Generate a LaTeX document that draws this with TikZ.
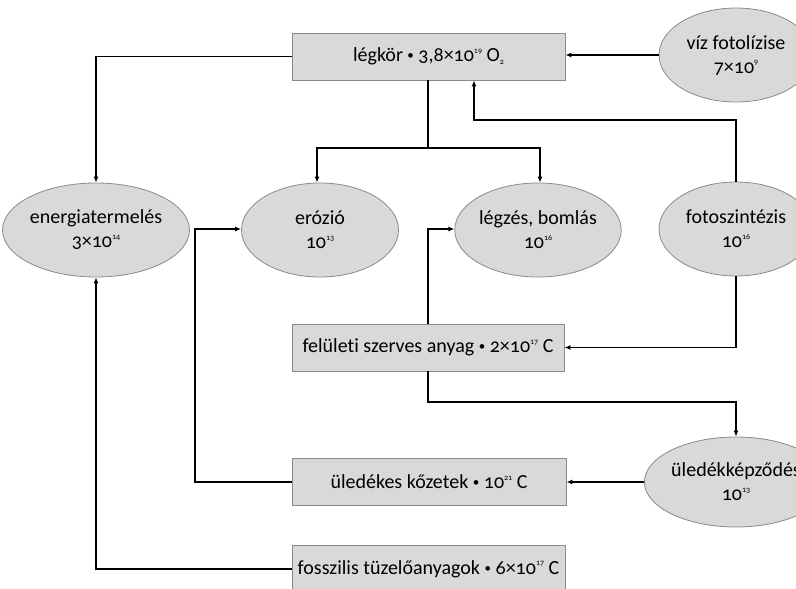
\documentclass[tikz,border=0pt]{standalone}
\usepackage{fontspec}
\setmainfont{Carlito}[Numbers=OldStyle,Ligatures=NoCommon]
\usetikzlibrary{shapes.geometric,arrows.meta}
\definecolor{boxfill}{HTML}{D9D9D9}
\definecolor{boxline}{HTML}{8A8A8A}
\newcommand{\sps}[1]{\raisebox{0.9ex}{\fontsize{8}{8}\selectfont #1}}
\newcommand{\sbs}[1]{\raisebox{-0.3ex}{\fontsize{8}{8}\selectfont #1}}
\newcommand{\dotsep}{ \raisebox{0.2ex}{\fontsize{13}{13}\selectfont\textbullet} }
\begin{document}
\begin{tikzpicture}[x=1pt,y=-1pt,
  font=\fontsize{20}{24}\selectfont,
  stockbox/.style={draw=boxline,fill=boxfill,line width=0.8pt,minimum width=273pt,minimum height=47pt,inner sep=0pt},
  flowell/.style={ellipse,draw=boxline,fill=boxfill,line width=0.8pt,minimum width=154pt,minimum height=94pt,inner sep=0pt,align=center},
  conn/.style={line width=1.2pt,-{Latex[length=6pt,width=5pt]}},
  plain/.style={line width=1.2pt}]
\useasboundingbox (0,0) rectangle (796,589);
\node[stockbox] (leg) at (428.5,56.5) {légkör\dotsep 3,8×10\sps{19} O\sbs{2}};
\node[flowell] (viz) at (736,55) {víz fotolízise\\7×10\sps{9}};
\node[flowell,minimum width=152pt] (ener) at (96,230) {energiatermelés\\3×10\sps{14}};
\node[flowell,minimum width=157pt] (ero) at (320,230) {erózió\\10\sps{13}};
\node[flowell,minimum width=150pt] (lgz) at (538,230) {légzés, bomlás\\10\sps{16}};
\node[flowell] (foto) at (736,229) {fotoszintézis\\10\sps{16}};
\node[stockbox,minimum width=272pt] (fel) at (428,347.5) {felületi szerves anyag\dotsep 2×10\sps{17} C};
\node[flowell,minimum height=90pt] (ulk) at (736,482) {üledékképződés\\10\sps{13}};
\node[stockbox,minimum width=274pt] (ule) at (429,482) {üledékes kőzetek\dotsep 10\sps{21} C};
\node[stockbox] (fos) at (428.5,569) {fosszilis tüzelőanyagok\dotsep 6×10\sps{17} C};
% connectors
\draw[conn] (leg.west) -| (ener.north);
\coordinate (split) at (428,148);
\draw[plain] (leg.south -| split) -- (split);
\draw[conn] (split) -| (ero.north -| 317,0);
\draw[conn] (split) -| (lgz.north -| 540,0);
\draw[conn] (viz.west) -- (leg.east |- viz.west);
\coordinate (fup) at (474,120);
\draw[conn] (foto.north) |- (fup) -- (leg.south -| fup);
\draw[conn] (foto.south) |- (fel.east);
\coordinate (fl) at (428,229);
\draw[conn] (fel.north -| fl) -- (fl) -- (lgz.west |- fl);
\coordinate (fd) at (428,402);
\draw[conn] (fel.south -| fd) -- (fd) -| (ulk.north);
\draw[conn] (ulk.west) -- (ule.east);
\coordinate (ul) at (195,229);
\draw[conn] (ule.west) -| (ul) -- (ero.west |- ul);
\draw[conn] (fos.west) -| (ener.south);
\end{tikzpicture}
\end{document}
